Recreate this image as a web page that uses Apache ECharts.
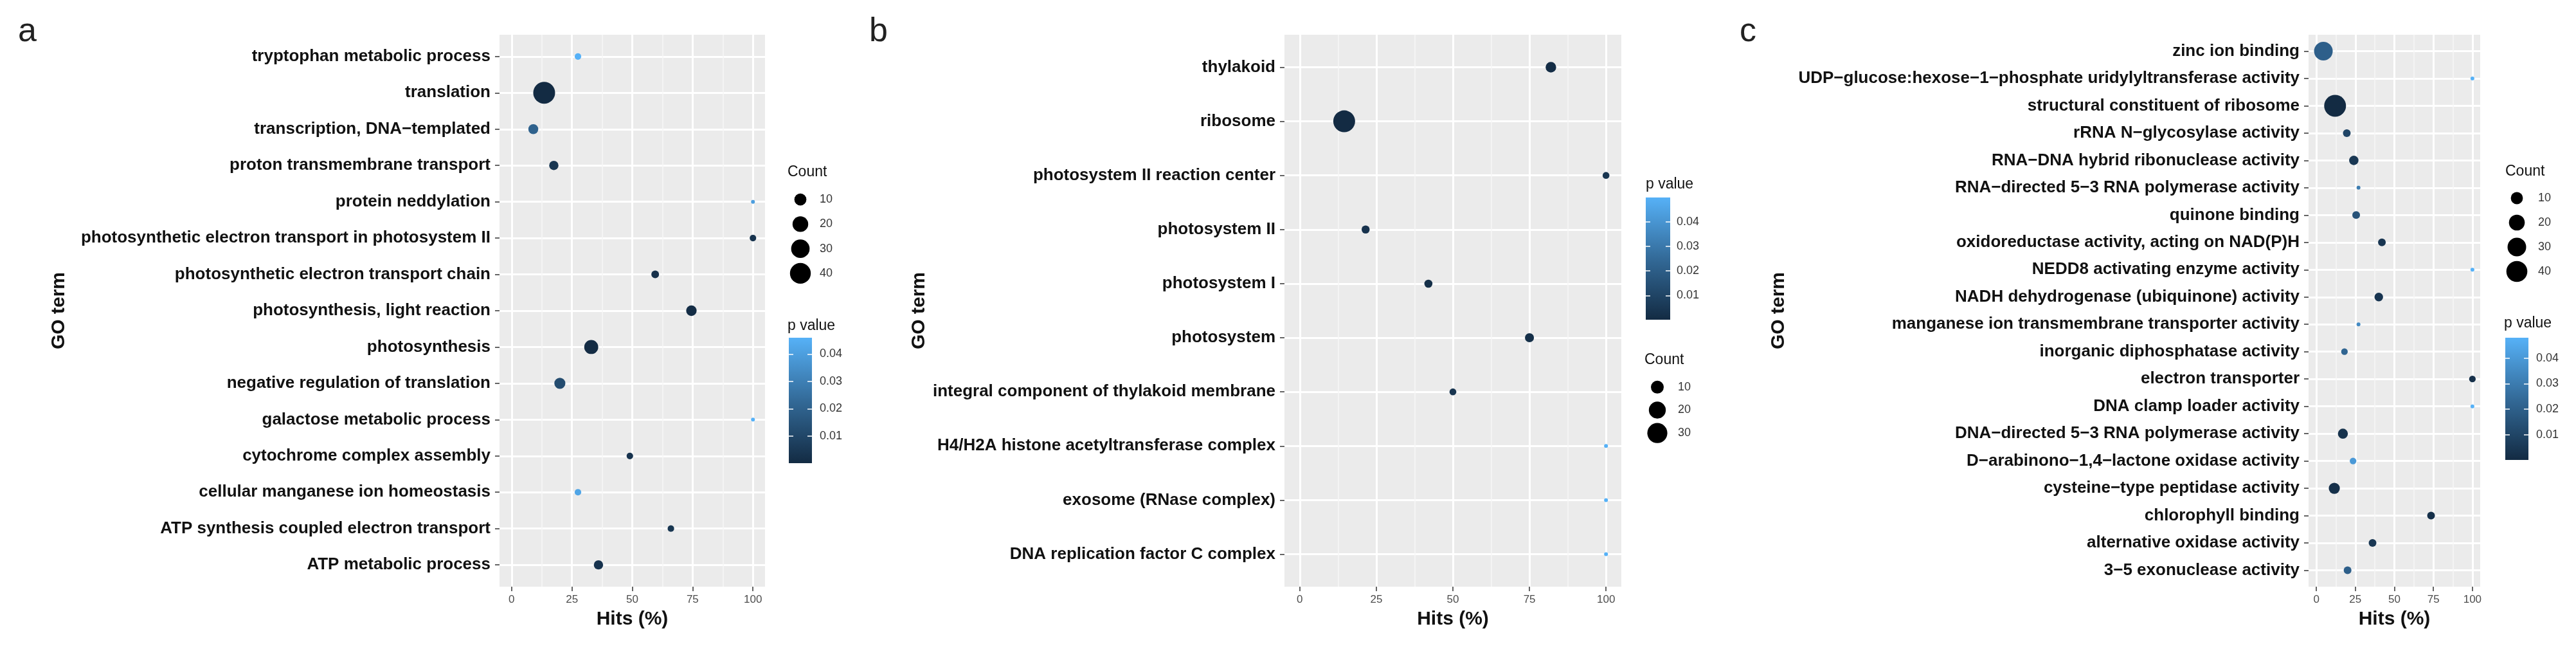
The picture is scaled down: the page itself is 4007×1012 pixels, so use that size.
<!DOCTYPE html>
<html><head><meta charset="utf-8">
<script src="https://cdn.jsdelivr.net/npm/echarts@6/dist/echarts.min.js"></script>
<style>html,body{margin:0;padding:0;background:#fff}#c{width:4007px;height:1012px}</style>
</head><body><div id="c"></div>
<script>
// ---------------- data ----------------
const termsA = ["tryptophan metabolic process","translation","transcription, DNA\u2212templated","proton transmembrane transport","protein neddylation","photosynthetic electron transport in photosystem II","photosynthetic electron transport chain","photosynthesis, light reaction","photosynthesis","negative regulation of translation","galactose metabolic process","cytochrome complex assembly","cellular manganese ion homeostasis","ATP synthesis coupled electron transport","ATP metabolic process"];
const hitsA  = [27.5, 13.5, 9, 17.5, 100, 100, 59.5, 74.5, 33, 20, 100, 49, 27.5, 66, 36];
const countA = [2, 45, 6, 5, 1, 2, 3, 7, 15, 8, 1, 2, 2, 2, 5];
const pA     = [0.046, 0.0001, 0.02, 0.004, 0.04, 0.003, 0.002, 0.001, 0.0005, 0.012, 0.046, 0.003, 0.042, 0.004, 0.003];

const termsB = ["thylakoid","ribosome","photosystem II reaction center","photosystem II","photosystem I","photosystem","integral component of thylakoid membrane","H4/H2A histone acetyltransferase complex","exosome (RNase complex)","DNA replication factor C complex"];
const hitsB  = [82, 14.5, 100, 21.5, 42, 75, 50, 100, 100, 100];
const countB = [6, 37, 2, 3, 3, 4, 2, 1, 1, 1];
const pB     = [0.001, 0.0001, 0.004, 0.003, 0.002, 0.002, 0.004, 0.05, 0.05, 0.05];

const termsC = ["zinc ion binding","UDP\u2212glucose:hexose\u22121\u2212phosphate uridylyltransferase activity","structural constituent of ribosome","rRNA N\u2212glycosylase activity","RNA\u2212DNA hybrid ribonuclease activity","RNA\u2212directed 5\u22123 RNA polymerase activity","quinone binding","oxidoreductase activity, acting on NAD(P)H","NEDD8 activating enzyme activity","NADH dehydrogenase (ubiquinone) activity","manganese ion transmembrane transporter activity","inorganic diphosphatase activity","electron transporter","DNA clamp loader activity","DNA\u2212directed 5\u22123 RNA polymerase activity","D\u2212arabinono\u22121,4\u2212lactone oxidase activity","cysteine\u2212type peptidase activity","chlorophyll binding","alternative oxidase activity","3\u22125 exonuclease activity"];
const hitsC  = [4.5, 100, 12, 19.5, 24, 27, 25.5, 42, 100, 40, 27, 18, 100, 100, 17, 23.5, 11.5, 73.5, 36, 20];
const countC = [30, 1, 44, 3, 5, 1, 3, 3, 1, 4, 1, 2, 2, 1, 6, 2, 8, 3, 3, 3];
const pC     = [0.02, 0.048, 0.0001, 0.01, 0.005, 0.03, 0.015, 0.004, 0.048, 0.004, 0.035, 0.022, 0.002, 0.048, 0.003, 0.04, 0.002, 0.002, 0.005, 0.02];

const hitTicks  = [0, 25, 50, 75, 100];
const hitMinor  = [12.5, 37.5, 62.5, 87.5];
const pTicks    = [0.01, 0.02, 0.03, 0.04];
const breaksA   = [10, 20, 30, 40];
const breaksB   = [10, 20, 30];
const breaksC   = [10, 20, 30, 40];
const panelTags = ["a", "b", "c"];

// ---------------- layout ----------------
const FONT = "Liberation Sans, Arial, sans-serif";
const panels = [
  {terms: termsA, hits: hitsA, count: countA, p: pA, breaks: breaksA,
   grid: {left: 777, width: 413}, tag: {left: 28},
   goGap: 670,
   countTitle: {left: 1225, top: 256}, countGrid: {left: 1228, top: 291, width: 34, height: 153}, countMargin: 13,
   pTitle: {left: 1225, top: 495}, barGrid: {left: 1227, top: 525, width: 36, height: 195}, barMargin: 12},
  {terms: termsB, hits: hitsB, count: countB, p: pB, breaks: breaksB,
   grid: {left: 1998, width: 524}, tag: {left: 1352},
   goGap: 553,
   countTitle: {left: 2558, top: 548}, countGrid: {left: 2561, top: 584, width: 34, height: 107}, countMargin: 15,
   pTitle: {left: 2560, top: 275}, barGrid: {left: 2560, top: 307, width: 38, height: 190}, barMargin: 10},
  {terms: termsC, hits: hitsC, count: countC, p: pC, breaks: breaksC,
   grid: {left: 3591, width: 267}, tag: {left: 2706},
   goGap: 809,
   countTitle: {left: 3897, top: 255}, countGrid: {left: 3898, top: 289, width: 34, height: 152}, countMargin: 16,
   pTitle: {left: 3895, top: 491}, barGrid: {left: 3897, top: 525, width: 36, height: 190}, barMargin: 12}
];
const TOP = 54, HEIGHT = 858;
const LOW = '#132B43', MID = '#336A98', HIGH = '#56B1F7';

function sizeFn(cmin, cmax) {
  return function (c) { return 6 + 28 * Math.sqrt((c - cmin) / (cmax - cmin)); };
}

const grid = [], xAxis = [], yAxis = [], series = [], visualMap = [], title = [];

panels.forEach((P, k) => {
  const n = P.terms.length;
  const idx = P.terms.map((_, i) => i);
  const cmin = Math.min(...P.count), cmax = Math.max(...P.count);
  const pmin = Math.min(...P.p), pmax = Math.max(...P.p);
  const sz = sizeFn(cmin, cmax);
  grid[k] = {left: P.grid.left, width: P.grid.width, top: TOP, height: HEIGHT, show: true, backgroundColor: '#EBEBEB', borderWidth: 0};
  // major x axis
  xAxis[2 * k] = {type: 'value', gridIndex: k, min: -5, max: 105, position: 'bottom',
    axisLine: {show: false, onZero: false},
    axisTick: {show: true, length: 7, customValues: hitTicks, lineStyle: {color: '#333', width: 1.5}},
    axisLabel: {customValues: hitTicks, fontSize: 17, color: '#4D4D4D', margin: 12, fontFamily: FONT},
    splitLine: {show: true, lineStyle: {color: '#fff', width: 3}},
    name: 'Hits (%)', nameLocation: 'middle', nameGap: 36,
    nameTextStyle: {fontSize: 30, fontWeight: 'bold', color: '#111', fontFamily: FONT}};
  // minor x grid lines (no ticks, no labels)
  xAxis[2 * k + 1] = {type: 'value', gridIndex: k, min: -5, max: 105, position: 'top',
    axisLine: {show: false, onZero: false}, axisLabel: {show: false, customValues: hitMinor},
    axisTick: {show: false, length: 0, customValues: hitMinor, lineStyle: {color: 'rgba(0,0,0,0)', width: 0}},
    splitLine: {show: true, lineStyle: {color: '#F7F7F7', width: 1.5}}};
  yAxis[k] = {type: 'value', gridIndex: k, inverse: true, min: -0.6, max: n - 0.4,
    axisLine: {show: false, onZero: false},
    axisTick: {show: true, length: 7, customValues: idx, lineStyle: {color: '#333', width: 1.5}},
    axisLabel: {customValues: idx, formatter: v => P.terms[Math.round(v)], fontSize: 26, fontWeight: 'bold',
      color: '#111', margin: 14, fontFamily: FONT},
    splitLine: {show: true, lineStyle: {color: '#fff', width: 3}},
    name: 'GO term', nameLocation: 'middle', nameRotate: 90, nameGap: P.goGap,
    nameTextStyle: {fontSize: 30, fontWeight: 'bold', color: '#111', fontFamily: FONT}};
  series[k] = {type: 'scatter', xAxisIndex: 2 * k, yAxisIndex: k,
    data: P.terms.map((t, i) => [P.hits[i], i, P.count[i], P.p[i]]),
    symbolSize: v => sz(v[2]), itemStyle: {opacity: 1}, z: 5};
  visualMap.push({type: 'continuous', show: false, seriesIndex: k, dimension: 3, min: pmin, max: pmax,
    inRange: {color: [LOW, MID, HIGH]}});

  // count legend
  grid[3 + k] = {left: P.countGrid.left, top: P.countGrid.top, width: P.countGrid.width, height: P.countGrid.height};
  xAxis[6 + k] = {type: 'value', gridIndex: 3 + k, min: -1, max: 1, show: false, axisLine: {onZero: false}};
  yAxis[3 + k] = {type: 'category', gridIndex: 3 + k, data: P.breaks.map(String), inverse: true, position: 'right',
    axisLine: {show: false, onZero: false}, axisTick: {show: false}, splitLine: {show: false},
    axisLabel: {fontSize: 18, color: '#333', margin: P.countMargin, fontFamily: FONT}};
  series[3 + k] = {type: 'scatter', xAxisIndex: 6 + k, yAxisIndex: 3 + k,
    data: P.breaks.map((b, i) => [0, i, b]), symbolSize: v => sz(v[2]),
    itemStyle: {color: '#000', opacity: 1}, silent: true};

  // colour bar
  grid[6 + k] = {left: P.barGrid.left, top: P.barGrid.top, width: P.barGrid.width, height: P.barGrid.height};
  xAxis[9 + k] = {type: 'category', gridIndex: 6 + k, data: ['p'], show: false, axisLine: {onZero: false}};
  yAxis[6 + 2 * k] = {type: 'value', gridIndex: 6 + k, min: pmin, max: pmax, position: 'right', z: 10,
    axisLine: {show: false, onZero: false}, splitLine: {show: false},
    axisTick: {show: true, inside: true, length: 7, customValues: pTicks, lineStyle: {color: '#fff', width: 1.5}},
    axisLabel: {customValues: pTicks, formatter: v => v.toFixed(2), fontSize: 18, color: '#333',
      margin: P.barMargin, fontFamily: FONT}};
  yAxis[7 + 2 * k] = {type: 'value', gridIndex: 6 + k, min: pmin, max: pmax, position: 'left', z: 10,
    axisLine: {show: false, onZero: false}, splitLine: {show: false}, axisLabel: {show: false},
    axisTick: {show: true, inside: true, length: 7, customValues: pTicks, lineStyle: {color: '#fff', width: 1.5}}};
  series[6 + k] = {type: 'bar', xAxisIndex: 9 + k, yAxisIndex: 6 + 2 * k, data: [pmax], barWidth: '100%',
    silent: true,
    itemStyle: {color: {type: 'linear', x: 0, y: 0, x2: 0, y2: 1,
      colorStops: [{offset: 0, color: HIGH}, {offset: 0.5, color: MID}, {offset: 1, color: LOW}]}}};

  title.push({text: panelTags[k], left: P.tag.left, top: 24, padding: 0,
    textStyle: {fontSize: 52, fontWeight: 'normal', color: '#222', fontFamily: FONT}});
  title.push({text: 'Count', left: P.countTitle.left, top: P.countTitle.top, padding: 0,
    textStyle: {fontSize: 23, fontWeight: 'normal', color: '#111', fontFamily: FONT}});
  title.push({text: 'p value', left: P.pTitle.left, top: P.pTitle.top, padding: 0,
    textStyle: {fontSize: 23, fontWeight: 'normal', color: '#111', fontFamily: FONT}});
});

const chart = echarts.init(document.getElementById('c'), null, {renderer: 'canvas'});
chart.setOption({
  animation: false,
  backgroundColor: '#fff',
  textStyle: {fontFamily: FONT},
  title, grid, xAxis, yAxis, series, visualMap
});
</script>
</body></html>
